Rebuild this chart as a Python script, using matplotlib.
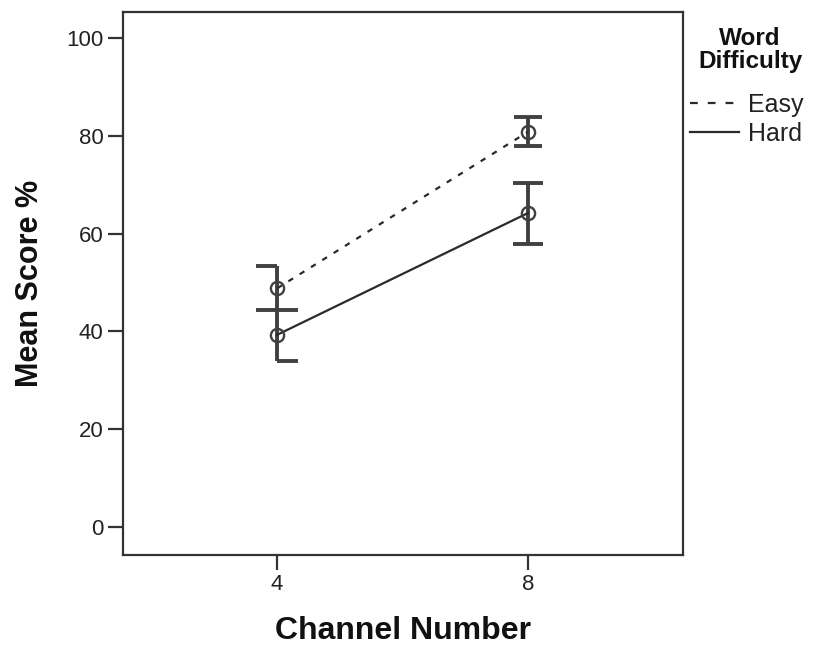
import matplotlib
matplotlib.use("Agg")
import matplotlib.pyplot as plt
from matplotlib.lines import Line2D

plt.rcParams['font.family'] = ['Liberation Sans', 'DejaVu Sans']

channels = ["4", "8"]
easy_mean = [48.8, 80.8]
easy_low = [44.3, 77.9]
easy_high = [53.4, 83.9]
hard_mean = [39.3, 64.2]
hard_low = [33.9, 57.9]
hard_high = [44.4, 70.3]
y_ticks = [0, 20, 40, 60, 80, 100]
series_labels = ["Easy", "Hard"]
legend_title = "Word\nDifficulty"

# cap styles: (left half-width, right half-width) in category units
easy_caps = [(0.084, 0.0), (0.055, 0.055)]
hard_caps = [(0.0, 0.084), (0.06, 0.06)]

fig = plt.figure(figsize=(8.13, 6.47), dpi=100)
ax = fig.add_axes([0.1513, 0.1422, 0.8401 - 0.1513, 0.9815 - 0.1422])

x = list(range(len(channels)))
ecol = '#404040'
lcol = '#2a2a2a'

for means, lows, highs, caps in [(easy_mean, easy_low, easy_high, easy_caps),
                                 (hard_mean, hard_low, hard_high, hard_caps)]:
    for xi, lo, hi, (cl, cr) in zip(x, lows, highs, caps):
        ax.vlines(xi, lo, hi, color=ecol, lw=2.8, zorder=2)
        for yv in (lo, hi):
            ax.hlines(yv, xi - cl, xi + cr, color=ecol, lw=2.8, zorder=2)

dash = (0, (2.5, 3.5))
ax.plot(x, easy_mean, color=lcol, lw=1.6, ls=dash, zorder=3)
ax.plot(x, hard_mean, color=lcol, lw=1.6, ls='-', zorder=3)
ax.plot(x, easy_mean, ls='none', marker='o', ms=9.5, mfc='none', mec=ecol, mew=1.7, zorder=4)
ax.plot(x, hard_mean, ls='none', marker='o', ms=9.5, mfc='none', mec=ecol, mew=1.7, zorder=4)

ax.set_xlim(-0.614, 1.618)
ax.set_ylim(-5.7, 105.3)
ax.set_xticks(x)
ax.set_xticklabels(channels)
ax.set_yticks(y_ticks)
ax.tick_params(axis='both', direction='out', length=11, width=1.6, color='#333333',
               labelsize=16, labelcolor='#222222', pad=3)
for s in ax.spines.values():
    s.set_linewidth(1.6)
    s.set_color('#333333')

ax.set_xlabel("Channel Number", fontsize=23, fontweight='bold', labelpad=15, color='#111111')
ax.set_ylabel("Mean Score %", fontsize=22, fontweight='bold', labelpad=15, color='#111111')

fig.text(750 / 813, 1 - 27 / 647, legend_title, ha='center', va='top',
         fontsize=17.5, fontweight='bold', linespacing=1.0, color='#111111')

handles = [Line2D([], [], color=lcol, lw=1.6, ls=(0, (3.5, 4.5))),
           Line2D([], [], color=lcol, lw=1.6, ls='-')]
leg = fig.legend(handles, series_labels, loc='upper left',
                 bbox_to_anchor=(690 / 813, 1 - 93 / 647), frameon=False,
                 fontsize=18, handlelength=1.96, handletextpad=0.36,
                 labelspacing=0.2, borderaxespad=0, borderpad=0)
for t in leg.get_texts():
    t.set_color('#222222')

fig.savefig("out.png", dpi=100)
